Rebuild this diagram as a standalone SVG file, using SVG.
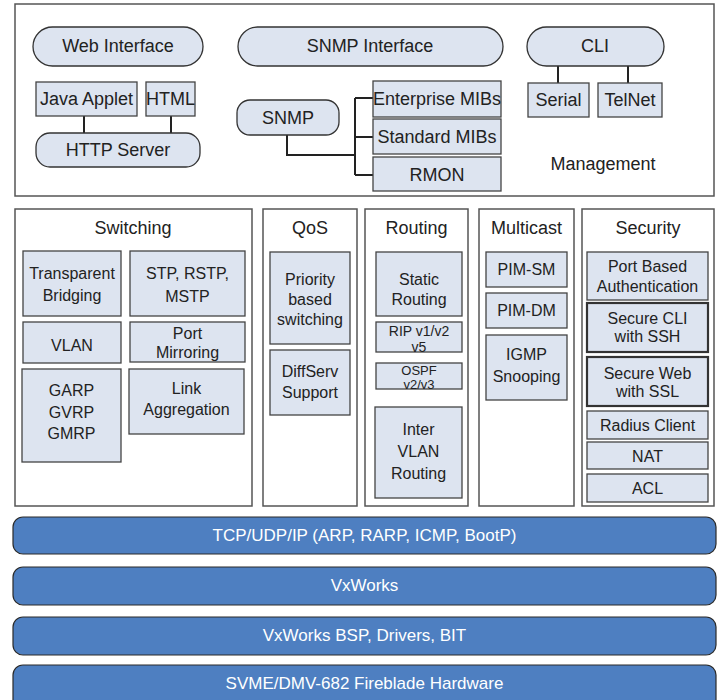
<svg xmlns="http://www.w3.org/2000/svg" width="718" height="700" viewBox="0 0 718 700">
<style>
  text { font-family: "Liberation Sans", Arial, sans-serif; fill: #222; text-anchor: middle; }
  .t18 { font-size: 18px; }
  .t16 { font-size: 16px; }
  .t14 { font-size: 14px; }
  .t13 { font-size: 13px; }
  .panel { fill: #fff; stroke: #555; stroke-width: 1.5; }
  .box { fill: #dde4f0; stroke: #444; stroke-width: 1.3; }
  .boxd { fill: #dde4f0; stroke: #333; stroke-width: 2.2; }
  .pill { fill: #dde4f0; stroke: #333; stroke-width: 1.3; }
  .bar { fill: #4e7fc1; stroke: #2a2a2a; stroke-width: 1.2; }
  .bart { fill: #fff; font-size: 17px; }
  .conn { fill: none; stroke: #222; stroke-width: 2; }
</style>

<g id="management">
  <rect class="panel" x="15" y="4" width="699" height="192"/>
  <text class="t18" x="603" y="170">Management</text>
</g>

<g id="connectors">
  <path class="conn" d="M84 116V133M171 116V133"/>
  <path class="conn" d="M558 66V83M628 66V83"/>
  <path class="conn" d="M287 135V155H355M355 98V175M355 98H373M355 137H373M355 175H373"/>
</g>

<g id="web-interface"><rect class="pill" x="33" y="27" width="170" height="39" rx="19.5"/><text class="t18" x="118" y="52">Web Interface</text></g>
<g id="snmp-interface"><rect class="pill" x="238" y="27" width="265" height="39" rx="19.5"/><text class="t18" x="370" y="52">SNMP Interface</text></g>
<g id="cli"><rect class="pill" x="527" y="27" width="137" height="39" rx="19.5"/><text class="t18" x="595" y="52">CLI</text></g>
<g id="java-applet"><rect class="box" x="36" y="82" width="101" height="34"/><text class="t18" x="86.5" y="105">Java Applet</text></g>
<g id="html"><rect class="box" x="146" y="82" width="49" height="34"/><text class="t18" x="170.5" y="105">HTML</text></g>
<g id="http-server"><rect class="pill" x="36" y="133" width="164" height="34" rx="14"/><text class="t18" x="118" y="156">HTTP Server</text></g>
<g id="snmp"><rect class="pill" x="237" y="100" width="102" height="35" rx="13"/><text class="t18" x="288" y="124">SNMP</text></g>
<g id="enterprise-mibs"><rect class="box" x="373" y="81" width="128" height="36"/><text class="t18" x="437" y="105">Enterprise MIBs</text></g>
<g id="standard-mibs"><rect class="box" x="373" y="119" width="128" height="35"/><text class="t18" x="437" y="143">Standard MIBs</text></g>
<g id="rmon"><rect class="box" x="373" y="157" width="128" height="34"/><text class="t18" x="437" y="181">RMON</text></g>
<g id="serial"><rect class="box" x="528" y="83" width="61" height="34"/><text class="t18" x="558.5" y="106">Serial</text></g>
<g id="telnet"><rect class="box" x="598" y="83" width="64" height="34"/><text class="t18" x="630" y="106">TelNet</text></g>

<g id="switching">
  <rect class="panel" x="15" y="209" width="237" height="297"/>
  <text class="t18" x="133" y="234">Switching</text>
</g>
<g id="transparent-bridging"><rect class="box" x="23" y="251" width="98" height="65"/><text class="t16" x="72" y="279">Transparent</text><text class="t16" x="72" y="301">Bridging</text></g>
<g id="stp"><rect class="box" x="130" y="251" width="115" height="65"/><text class="t16" x="187.5" y="279">STP, RSTP,</text><text class="t16" x="187.5" y="302">MSTP</text></g>
<g id="vlan"><rect class="box" x="23" y="322" width="98" height="41"/><text class="t16" x="72" y="351">VLAN</text></g>
<g id="port-mirroring"><rect class="box" x="130" y="322" width="115" height="40"/><text class="t16" x="187.5" y="339">Port</text><text class="t16" x="187.5" y="358">Mirroring</text></g>
<g id="garp"><rect class="box" x="22" y="369" width="99" height="93"/><text class="t16" x="71.5" y="396">GARP</text><text class="t16" x="71.5" y="418">GVRP</text><text class="t16" x="71.5" y="439">GMRP</text></g>
<g id="link-aggregation"><rect class="box" x="129" y="369" width="115" height="65"/><text class="t16" x="186.5" y="394">Link</text><text class="t16" x="186.5" y="415">Aggregation</text></g>

<g id="qos">
  <rect class="panel" x="263" y="209" width="94" height="297"/>
  <text class="t18" x="310" y="234">QoS</text>
</g>
<g id="priority"><rect class="box" x="270" y="252" width="80" height="92"/><text class="t16" x="310" y="285">Priority</text><text class="t16" x="310" y="305">based</text><text class="t16" x="310" y="325">switching</text></g>
<g id="diffserv"><rect class="box" x="270" y="350" width="80" height="65"/><text class="t16" x="310" y="377">DiffServ</text><text class="t16" x="310" y="398">Support</text></g>

<g id="routing">
  <rect class="panel" x="365" y="209" width="103" height="297"/>
  <text class="t18" x="416.5" y="234">Routing</text>
</g>
<g id="static-routing"><rect class="box" x="376" y="252" width="86" height="64"/><text class="t16" x="419" y="285">Static</text><text class="t16" x="419" y="305">Routing</text></g>
<g id="rip"><rect class="box" x="376" y="322" width="86" height="30"/><text class="t14" x="419" y="335.5">RIP v1/v2</text><text class="t14" x="419" y="351.5">v5</text></g>
<g id="ospf"><rect class="box" x="376" y="363" width="86" height="26"/><text class="t13" x="419" y="374.5">OSPF</text><text class="t13" x="419" y="389">v2/v3</text></g>
<g id="inter-vlan"><rect class="box" x="375" y="407" width="87" height="91"/><text class="t16" x="418.5" y="435">Inter</text><text class="t16" x="418.5" y="457">VLAN</text><text class="t16" x="418.5" y="479">Routing</text></g>

<g id="multicast">
  <rect class="panel" x="479" y="209" width="95" height="297"/>
  <text class="t18" x="526.5" y="234">Multicast</text>
</g>
<g id="pim-sm"><rect class="box" x="486" y="252" width="81" height="35"/><text class="t16" x="526.5" y="275">PIM-SM</text></g>
<g id="pim-dm"><rect class="box" x="486" y="293" width="81" height="35"/><text class="t16" x="526.5" y="316">PIM-DM</text></g>
<g id="igmp"><rect class="box" x="486" y="335" width="81" height="65"/><text class="t16" x="526.5" y="360">IGMP</text><text class="t16" x="526.5" y="382">Snooping</text></g>

<g id="security">
  <rect class="panel" x="582" y="209" width="132" height="297"/>
  <text class="t18" x="648" y="234">Security</text>
</g>
<g id="port-auth"><rect class="box" x="587" y="252" width="121" height="48"/><text class="t16" x="647.5" y="272">Port Based</text><text class="t16" x="647.5" y="292">Authentication</text></g>
<g id="secure-cli"><rect class="boxd" x="587" y="303" width="121" height="49"/><text class="t16" x="647.5" y="324">Secure CLI</text><text class="t16" x="647.5" y="342">with SSH</text></g>
<g id="secure-web"><rect class="boxd" x="587" y="357" width="121" height="49"/><text class="t16" x="647.5" y="379">Secure Web</text><text class="t16" x="647.5" y="397">with SSL</text></g>
<g id="radius"><rect class="box" x="587" y="411" width="121" height="28"/><text class="t16" x="647.5" y="431">Radius Client</text></g>
<g id="nat"><rect class="box" x="587" y="442" width="121" height="27"/><text class="t16" x="647.5" y="462">NAT</text></g>
<g id="acl"><rect class="box" x="587" y="474" width="121" height="28"/><text class="t16" x="647.5" y="494">ACL</text></g>

<g id="tcpip"><rect class="bar" x="13" y="517" width="703" height="37" rx="10"/><text class="bart" x="364.5" y="541">TCP/UDP/IP (ARP, RARP, ICMP, BootP)</text></g>
<g id="vxworks"><rect class="bar" x="13" y="567" width="703" height="38" rx="10"/><text class="bart" x="364.5" y="591">VxWorks</text></g>
<g id="bsp"><rect class="bar" x="13" y="617" width="703" height="38" rx="10"/><text class="bart" x="364.5" y="641">VxWorks BSP, Drivers, BIT</text></g>
<g id="hardware"><rect class="bar" x="13" y="665" width="703" height="45" rx="10"/><text class="bart" x="364.5" y="689">SVME/DMV-682 Fireblade Hardware</text></g>
</svg>
